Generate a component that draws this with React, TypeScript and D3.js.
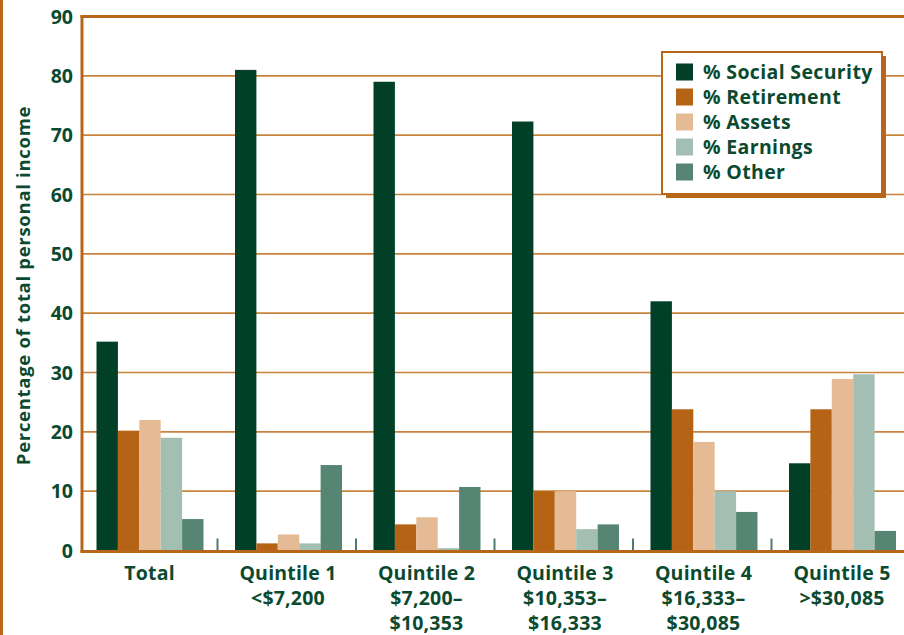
import React from "react";
import * as d3 from "d3";

const categories = ["Total", "Quintile 1", "Quintile 2", "Quintile 3", "Quintile 4", "Quintile 5"];
const categoryLines = [
  ["Total"],
  ["Quintile 1", "<$7,200"],
  ["Quintile 2", "$7,200–", "$10,353"],
  ["Quintile 3", "$10,353–", "$16,333"],
  ["Quintile 4", "$16,333–", "$30,085"],
  ["Quintile 5", ">$30,085"],
];
const seriesNames = ["% Social Security", "% Retirement", "% Assets", "% Earnings", "% Other"];
const socialSecurity = [35.2, 81.0, 79.0, 72.3, 42.0, 14.7];
const retirement = [20.2, 1.2, 4.4, 10.0, 23.8, 23.8];
const assets = [22.0, 2.7, 5.6, 10.0, 18.3, 28.9];
const earnings = [19.0, 1.2, 0.4, 3.6, 10.0, 29.7];
const other = [5.3, 14.4, 10.7, 4.4, 6.5, 3.3];
const seriesValues = [socialSecurity, retirement, assets, earnings, other];
const seriesColors = ["#013f27", "#b46414", "#e4bb94", "#a3bfb3", "#568574"];
const yTicks = [0, 10, 20, 30, 40, 50, 60, 70, 80, 90];
const yLabel = "Percentage of total personal income";

const W = 904;
const H = 635;
const TEXT = "#0b4a2f";
const ORANGE = "#b8661a";
const GRID = "#c8843f";
const FONT = "'Open Sans', 'Noto Sans', sans-serif";

export default function App() {
  const y = d3.scaleLinear().domain([0, 90]).range([550.5, 16.5]);
  const step = 138.5;
  const x0 = d3
    .scaleBand<string>()
    .domain(categories)
    .range([79.5, 79.5 + step * categories.length])
    .padding(0);
  const x1 = d3.scaleBand<string>().domain(seriesNames).range([17, 124]).padding(0);
  const plotLeft = 82;

  return (
    <div style={{ position: "absolute", left: 0, top: 0, width: W, height: H, background: "#fff" }}>
      <svg width={W} height={H} style={{ display: "block", fontFamily: FONT }}>
        <rect x={0} y={0} width={W} height={H} fill="#fff" />
        {/* outer left border */}
        <line x1={1.5} x2={1.5} y1={0} y2={H} stroke={ORANGE} strokeWidth={3} />
        {/* gridlines */}
        {yTicks
          .filter((t) => t > 0 && t < 90)
          .map((t) => (
            <line key={t} x1={plotLeft} x2={W} y1={y(t)} y2={y(t)} stroke={GRID} strokeWidth={1.6} />
          ))}
        {/* top border */}
        <line x1={plotLeft - 1.5} x2={W} y1={y(90)} y2={y(90)} stroke={ORANGE} strokeWidth={3} />
        {/* bars */}
        {categories.map((c, ci) => (
          <g key={c} transform={`translate(${x0(c)},0)`}>
            {seriesNames.map((s, si) => {
              const v = seriesValues[si][ci];
              return (
                <rect
                  key={s}
                  x={x1(s)}
                  y={y(v)}
                  width={x1.bandwidth()}
                  height={y(0) - y(v)}
                  fill={seriesColors[si]}
                />
              );
            })}
          </g>
        ))}
        {/* group separators */}
        {categories.slice(1).map((c) => (
          <line
            key={c}
            x1={(x0(c) as number) - 0.5}
            x2={(x0(c) as number) - 0.5}
            y1={y(0) - 12}
            y2={y(0)}
            stroke="#4d7d6a"
            strokeWidth={2}
          />
        ))}
        {/* axes */}
        <line x1={plotLeft} x2={plotLeft} y1={y(90) - 1.5} y2={y(0) + 2} stroke={ORANGE} strokeWidth={3} />
        <line x1={plotLeft - 1.5} x2={W} y1={y(0) + 1} y2={y(0) + 1} stroke={ORANGE} strokeWidth={3} />
        {/* y tick labels */}
        {yTicks.map((t) => (
          <text
            key={t}
            x={73}
            y={y(t)}
            dy="0.36em"
            textAnchor="end"
            fontSize={19.5}
            fontWeight={700}
            fill={TEXT}
          >
            {t}
          </text>
        ))}
        {/* y label */}
        <text
          transform={`translate(30,${(y(0) + y(90)) / 2 + 2}) rotate(-90)`}
          textAnchor="middle"
          fontSize={18.5}
          letterSpacing={0.7}
          fontWeight={700}
          fill={TEXT}
        >
          {yLabel}
        </text>
        {/* x labels */}
        {categories.map((c, ci) => (
          <text
            key={c}
            x={(x0(c) as number) + 70}
            y={580}
            textAnchor="middle"
            fontSize={19.5}
            letterSpacing={0.2}
            fontWeight={700}
            fill={TEXT}
          >
            {categoryLines[ci].map((line, li) => (
              <tspan key={li} x={(x0(c) as number) + 70} dy={li === 0 ? 0 : 25}>
                {line}
              </tspan>
            ))}
          </text>
        ))}
        {/* legend */}
        <g transform="translate(662,52)">
          <rect x={4} y={4} width={220} height={142} fill={ORANGE} />
          <rect x={0} y={0} width={220} height={142} fill="#fff" stroke={ORANGE} strokeWidth={2} />
          {seriesNames.map((s, si) => (
            <g key={s} transform={`translate(14,${20 + si * 25})`}>
              <rect x={0} y={-8.5} width={17} height={17} fill={seriesColors[si]} />
              <text x={27} y={0} dy="0.36em" fontSize={19.5} letterSpacing={0.35} fontWeight={700} fill={TEXT}>
                {s}
              </text>
            </g>
          ))}
        </g>
      </svg>
    </div>
  );
}
